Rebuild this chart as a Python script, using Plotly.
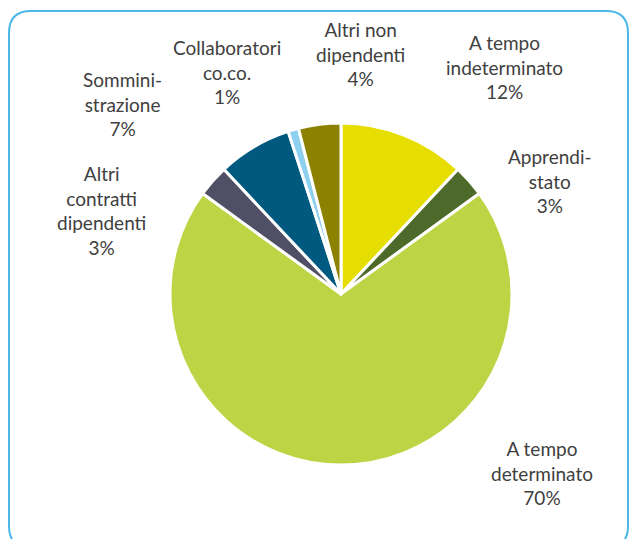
import plotly.graph_objects as go

# Data
labels = ["A tempo indeterminato", "Apprendistato", "A tempo determinato",
          "Altri contratti dipendenti", "Somministrazione", "Collaboratori co.co.",
          "Altri non dipendenti"]
label_text = ["A tempo<br>indeterminato", "Apprendi-<br>stato", "A tempo<br>determinato",
              "Altri<br>contratti<br>dipendenti", "Sommini-<br>strazione", "Collaboratori<br>co.co.",
              "Altri non<br>dipendenti"]
values = [12, 3, 70, 3, 7, 1, 4]
colors = ["#E6DE00", "#4E6A2A", "#BDD545", "#4F4F66", "#005A80", "#8DD0F0", "#8C8200"]

W, H = 635, 539
cx, cy, r = 341, 294, 171

# label centres in pixels (layout)
label_pos = [(504, 67), (550, 181), (542, 473), (101, 210), (122, 104), (227, 72), (360, 54)]

fig = go.Figure(go.Pie(
    labels=labels, values=values, sort=False, direction="clockwise", rotation=0,
    marker=dict(colors=colors, line=dict(color="white", width=3)),
    textinfo="none", hoverinfo="label+percent", showlegend=False,
    domain=dict(x=[(cx - r) / W, (cx + r) / W], y=[(H - cy - r) / H, (H - cy + r) / H]),
))

total = sum(values)
for txt, v, (px, py) in zip(label_text, values, label_pos):
    fig.add_annotation(
        x=px / W, y=(H - py) / H, xref="paper", yref="paper",
        text=f"{txt}<br>{round(100 * v / total)}%", showarrow=False,
        xanchor="center", yanchor="middle", align="center",
        font=dict(family="Lato", size=19, color="#404040"),
    )

# rounded frame
x0, x1, y0, y1, rr = 9, 628, 11, 548, 22
def P(x, y):
    return f"{x / W:.5f},{(H - y) / H:.5f}"
path = (f"M {P(x0 + rr, y0)} L {P(x1 - rr, y0)} Q {P(x1, y0)} {P(x1, y0 + rr)} "
        f"L {P(x1, y1 - rr)} Q {P(x1, y1)} {P(x1 - rr, y1)} L {P(x0 + rr, y1)} "
        f"Q {P(x0, y1)} {P(x0, y1 - rr)} L {P(x0, y0 + rr)} Q {P(x0, y0)} {P(x0 + rr, y0)} Z")
fig.add_shape(type="path", path=path, xref="paper", yref="paper",
              line=dict(color="#4DB8E8", width=2))

fig.update_layout(width=W, height=H, margin=dict(l=0, r=0, t=0, b=0),
                  paper_bgcolor="white", plot_bgcolor="white")
fig.write_html("out.html", config={"displayModeBar": False},
               post_script="document.body.style.margin='0';document.body.style.overflow='hidden';")
